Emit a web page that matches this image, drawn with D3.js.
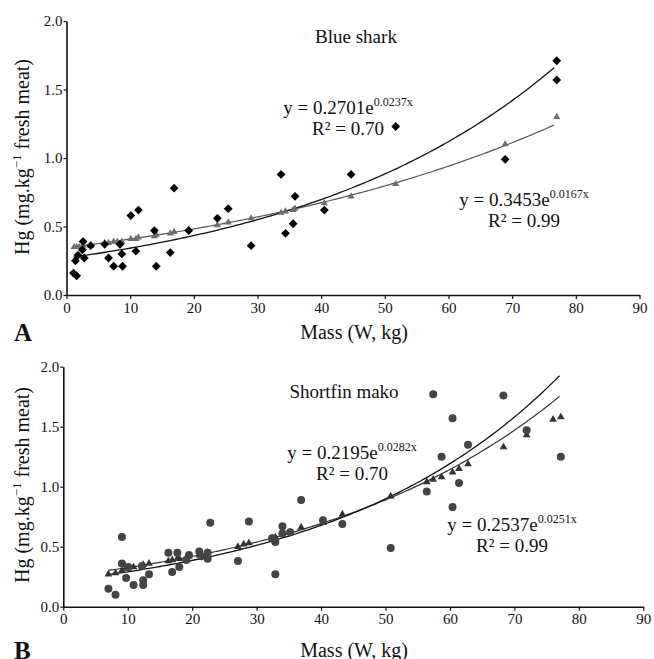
<!DOCTYPE html>
<html>
<head>
<meta charset="utf-8">
<script src="https://cdn.jsdelivr.net/npm/d3@7"></script>
<style>
  body { margin: 0; background: #fff; }
  svg text { font-family: "Liberation Serif", "Times New Roman", serif; fill: #111; }
</style>
</head>
<body>
<svg id="svg" width="654" height="659"></svg>
<script>
// ---- panel A : blue shark (observed = diamonds, predicted = triangles)
const massA = [1.1, 1.6, 1.4, 1.8, 2.5, 2.6, 2.8, 3.8, 6.0, 6.6, 7.4, 8.4, 8.7, 8.8, 10.1, 10.9, 11.3, 13.8, 14.1, 16.3, 16.9, 19.2, 23.7, 25.4, 29.0, 33.7, 34.4, 35.6, 35.9, 40.5, 44.7, 51.7, 68.9, 77.0, 77.0];
const hgA = [0.16, 0.14, 0.25, 0.29, 0.33, 0.39, 0.27, 0.36, 0.37, 0.27, 0.21, 0.37, 0.30, 0.21, 0.58, 0.32, 0.62, 0.47, 0.21, 0.31, 0.78, 0.47, 0.56, 0.63, 0.36, 0.88, 0.45, 0.52, 0.72, 0.62, 0.88, 1.23, 0.99, 1.71, 1.57];
const predMassA = [1.2, 1.6, 2.0, 2.6, 3.8, 6.0, 6.6, 7.4, 8.0, 8.7, 10.1, 10.9, 11.3, 13.8, 14.1, 16.3, 16.9, 19.2, 23.7, 25.4, 29.0, 33.7, 34.4, 35.6, 35.9, 40.5, 44.7, 51.7, 68.9, 77.0];
const predHgA = [0.35, 0.35, 0.35, 0.36, 0.36, 0.38, 0.38, 0.39, 0.39, 0.39, 0.41, 0.41, 0.42, 0.43, 0.44, 0.45, 0.46, 0.48, 0.51, 0.53, 0.56, 0.60, 0.61, 0.62, 0.63, 0.67, 0.72, 0.81, 1.10, 1.30];
// fits: [a, b, R2]  y = a*e^(b x)
const fitObsA = [0.2701, 0.0237, 0.70];
const fitPredA = [0.3453, 0.0167, 0.99];

// ---- panel B : shortfin mako (observed = circles, predicted = triangles)
const massB = [7.0, 8.1, 9.1, 9.1, 9.75, 10.1, 10.9, 12.2, 12.4, 12.4, 13.3, 16.3, 16.9, 17.7, 18.0, 19.1, 19.5, 21.1, 21.4, 22.4, 22.4, 22.8, 27.1, 28.8, 32.4, 32.9, 32.9, 34.0, 34.0, 35.2, 36.9, 40.3, 43.3, 50.8, 56.4, 57.4, 58.7, 60.4, 60.4, 61.4, 62.8, 68.3, 71.9, 77.2];
const hgB = [0.15, 0.10, 0.58, 0.36, 0.24, 0.33, 0.18, 0.34, 0.22, 0.18, 0.27, 0.45, 0.29, 0.45, 0.33, 0.39, 0.43, 0.46, 0.42, 0.40, 0.45, 0.70, 0.38, 0.71, 0.57, 0.27, 0.54, 0.67, 0.61, 0.62, 0.89, 0.72, 0.69, 0.49, 0.96, 1.77, 1.25, 0.83, 1.57, 1.03, 1.35, 1.76, 1.47, 1.25];
const predMassB = [7.0, 8.1, 9.1, 9.75, 10.1, 10.9, 12.2, 12.4, 13.3, 16.3, 16.9, 17.7, 18.0, 19.1, 19.5, 21.1, 21.4, 22.4, 27.1, 28.0, 28.8, 32.4, 32.9, 34.0, 35.2, 36.9, 40.3, 43.3, 50.8, 56.4, 57.4, 58.7, 60.4, 61.4, 62.8, 68.3, 71.9, 76.0, 77.2];
const predHgB = [0.27, 0.28, 0.30, 0.32, 0.32, 0.33, 0.34, 0.35, 0.36, 0.38, 0.39, 0.40, 0.40, 0.41, 0.42, 0.43, 0.44, 0.45, 0.50, 0.52, 0.53, 0.57, 0.58, 0.60, 0.62, 0.66, 0.70, 0.77, 0.92, 1.04, 1.06, 1.08, 1.12, 1.15, 1.19, 1.33, 1.43, 1.56, 1.58];
const fitObsB = [0.2195, 0.0282, 0.70];
const fitPredB = [0.2537, 0.0251, 0.99];

const xTicks = [0, 10, 20, 30, 40, 50, 60, 70, 80, 90];
const yTicks = [0, 0.5, 1.0, 1.5, 2.0];

const svg = d3.select("#svg");

function eqLabel(g, cx, y, fit) {
  var t = g.append("text").attr("x", cx).attr("y", y)
    .attr("text-anchor", "middle").style("font-size", "19px");
  t.append("tspan").text("y = " + fit[0].toFixed(4) + "e");
  t.append("tspan").attr("dy", -8).style("font-size", "12px").text(fit[1].toFixed(4) + "x");
  g.append("text").attr("x", cx).attr("y", y + 21)
    .attr("text-anchor", "middle").style("font-size", "19px")
    .text("R\u00b2 = " + fit[2].toFixed(2));
}

function drawPanel(p) {
  var g = svg.append("g");
  var x = d3.scaleLinear().domain([0, 90]).range(p.xr);
  var y = d3.scaleLinear().domain([0, 2]).range(p.yr);

  var xa = g.append("g").attr("transform", "translate(0," + p.yr[0] + ")")
    .call(d3.axisBottom(x).tickValues(xTicks).tickSize(4).tickSizeOuter(0).tickPadding(3).tickFormat(d3.format("d")));
  var ya = g.append("g").attr("transform", "translate(" + p.xr[0] + ",0)")
    .call(d3.axisLeft(y).tickValues(yTicks).tickSize(3).tickSizeOuter(0).tickPadding(1).tickFormat(d3.format(".1f")));
  [xa, ya].forEach(function(a) {
    a.attr("font-family", null).attr("font-size", null);
    a.select(".domain").attr("stroke", "#111").attr("stroke-width", 1.6);
    a.selectAll(".tick line").attr("stroke", "#111").attr("stroke-width", 1.2);
    a.selectAll(".tick text").style("font-size", "15px").attr("fill", "#111");
  });

  // fitted curves
  function curve(fit, color, w) {
    var xs = d3.range(p.fitFrom, p.fitTo + 0.01, 0.5);
    g.append("path")
      .datum(xs)
      .attr("fill", "none").attr("stroke", color).attr("stroke-width", w)
      .attr("d", d3.line().x(function(d) { return x(d); }).y(function(d) { return y(fit[0] * Math.exp(fit[1] * d)); }));
  }
  curve(p.fitPred, p.predLine, 1.2);
  curve(p.fitObs, "#111", 1.3);

  // predicted triangles
  var tri = d3.symbol().type(d3.symbolTriangle).size(p.triSize);
  g.selectAll(".tri").data(p.predMass).enter().append("path")
    .attr("d", tri)
    .attr("transform", function(d, i) { return "translate(" + x(d) + "," + y(p.predHg[i]) + ")"; })
    .attr("fill", p.triColor);

  // observed points
  if (p.obsShape == "diamond") {
    var r = 4.4;
    g.selectAll(".obs").data(p.obsMass).enter().append("path")
      .attr("d", "M0," + (-r) + "L" + r + ",0L0," + r + "L" + (-r) + ",0Z")
      .attr("transform", function(d, i) { return "translate(" + x(d) + "," + y(p.obsHg[i]) + ")"; })
      .attr("fill", "#000");
  } else {
    g.selectAll(".obs").data(p.obsMass).enter().append("circle")
      .attr("cx", function(d) { return x(d); })
      .attr("cy", function(d, i) { return y(p.obsHg[i]); })
      .attr("r", 4)
      .attr("fill", "#444");
  }

  // texts
  g.append("text").attr("x", p.title[1]).attr("y", p.title[2]).attr("text-anchor", "middle")
    .style("font-size", "19px").text(p.title[0]);
  eqLabel(g, p.eq1[0], p.eq1[1], p.fitObs);
  eqLabel(g, p.eq2[0], p.eq2[1], p.fitPred);

  var yl = g.append("text")
    .attr("transform", "translate(" + p.ylab[0] + "," + p.ylab[1] + ") rotate(-90)")
    .attr("text-anchor", "middle").style("font-size", "20px");
  yl.append("tspan").text("Hg (mg.kg");
  yl.append("tspan").attr("dy", -8).style("font-size", "13px").text("\u22121");
  yl.append("tspan").attr("dy", 8).text(" fresh meat)");

  g.append("text").attr("x", 354).attr("y", p.xlabY).attr("text-anchor", "middle")
    .style("font-size", "20px").text("Mass (W, kg)");
  g.append("text").attr("x", 14).attr("y", p.xlabY + 2)
    .style("font-size", "25px").style("font-weight", "bold").text(p.letter);
}

drawPanel({
  xr: [66.5, 639.5], yr: [295, 21],
  obsMass: massA, obsHg: hgA, predMass: predMassA, predHg: predHgA,
  fitObs: fitObsA, fitPred: fitPredA, fitFrom: 1.1, fitTo: 77,
  obsShape: "diamond", triColor: "#6e6e6e", triSize: 22, predLine: "#555",
  title: ["Blue shark", 356, 43], eq1: [348, 114], eq2: [524, 206],
  ylab: [29, 157], xlabY: 339, letter: "A"
});

drawPanel({
  xr: [63.3, 643.3], yr: [606.7, 366.7],
  obsMass: massB, obsHg: hgB, predMass: predMassB, predHg: predHgB,
  fitObs: fitObsB, fitPred: fitPredB, fitFrom: 7, fitTo: 77,
  obsShape: "circle", triColor: "#333", triSize: 26, predLine: "#333",
  title: ["Shortfin mako", 344, 398], eq1: [352, 459], eq2: [512, 531],
  ylab: [29, 485], xlabY: 657, letter: "B"
});
</script>
</body>
</html>
